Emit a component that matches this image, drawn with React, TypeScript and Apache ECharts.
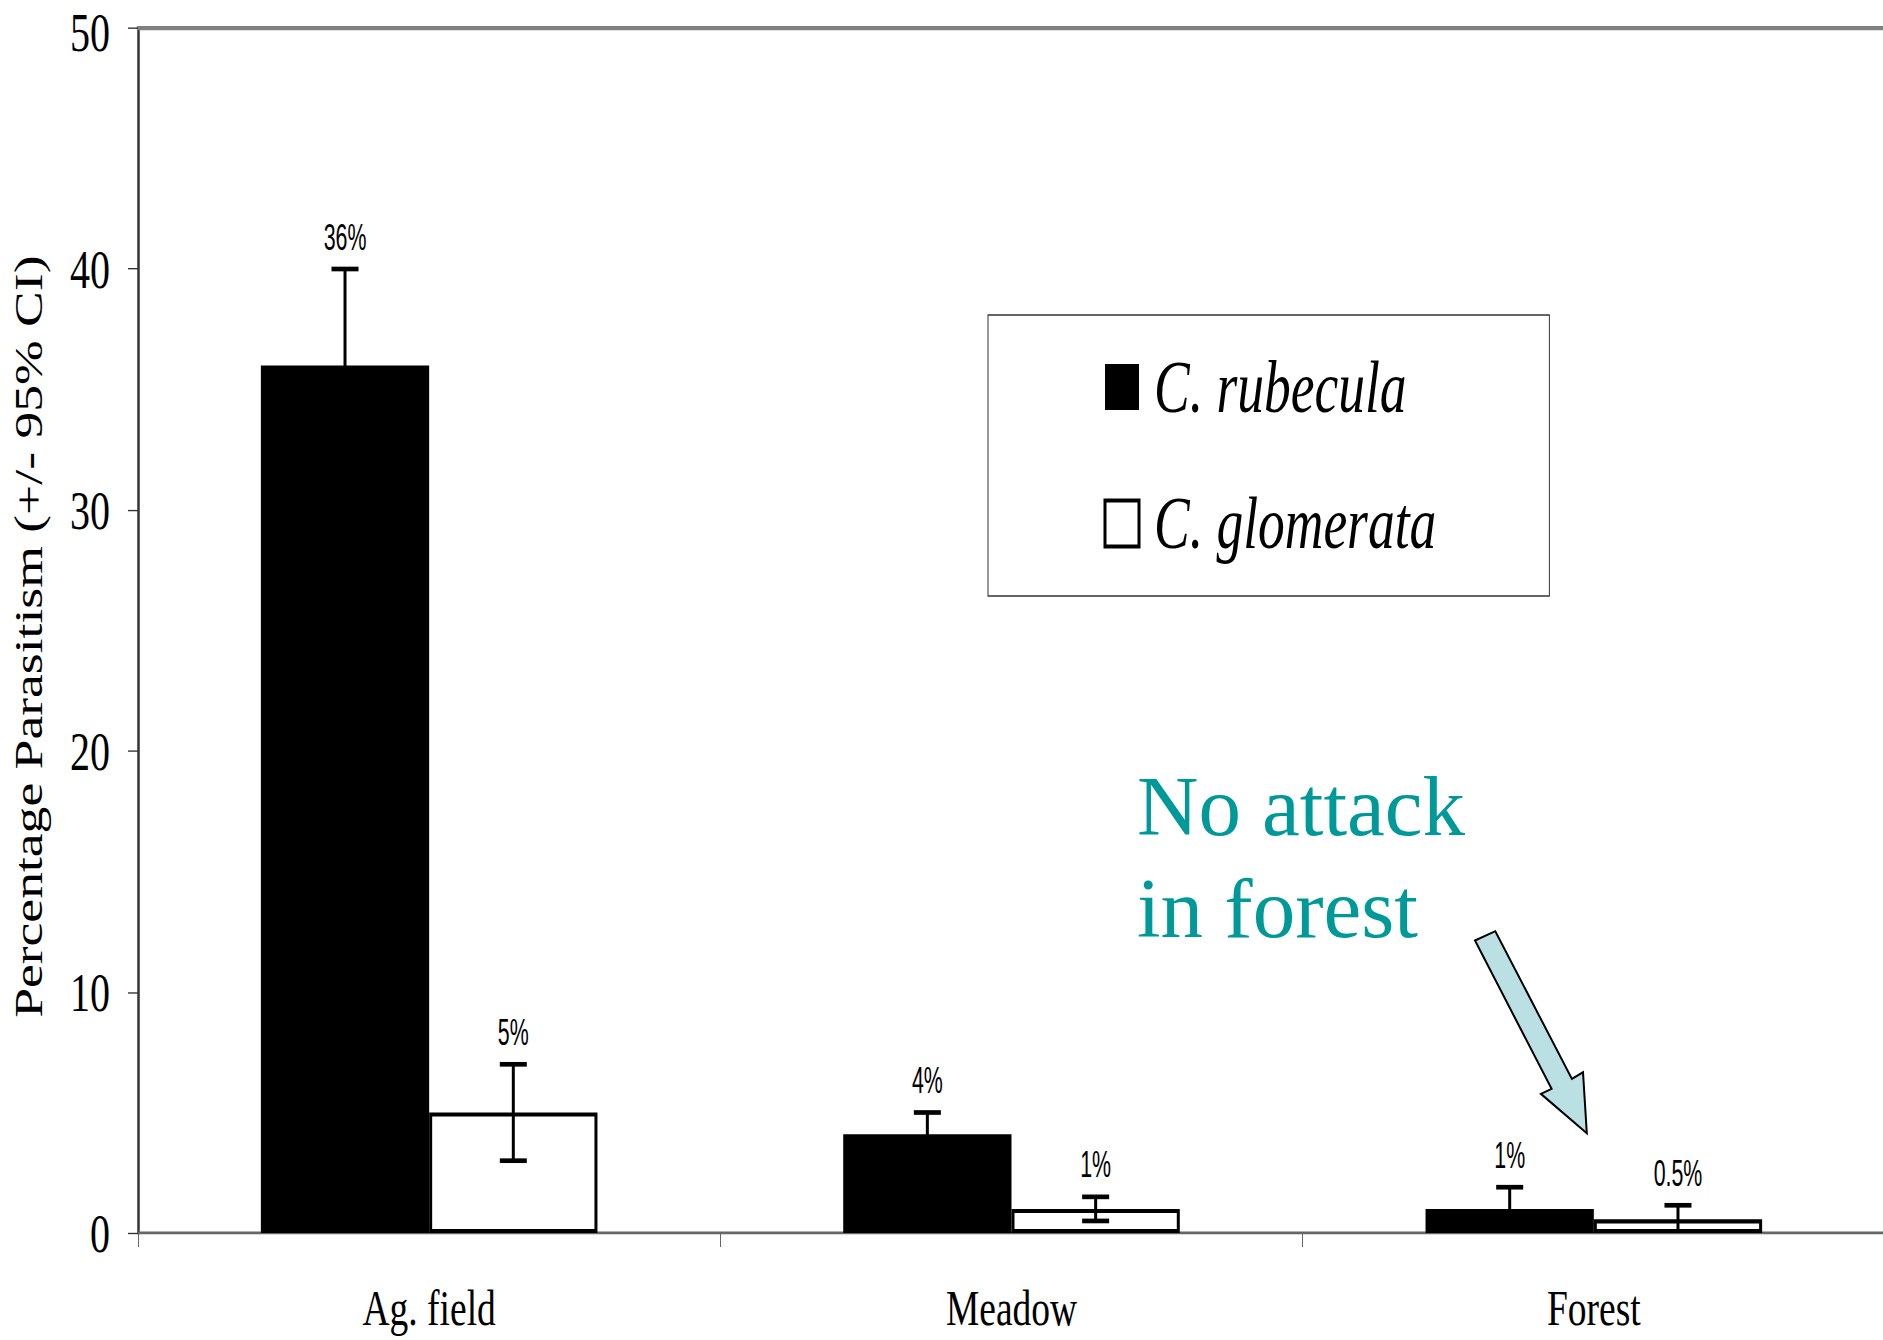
import React, { useEffect, useRef } from 'react';
import * as echarts from 'echarts';

// ---- data ----
const categories = ['Ag. field', 'Meadow', 'Forest'];
const seriesNames = ['C. rubecula', 'C. glomerata'];
const rubecula = [36, 4.1, 1.0];
const rubeculaCI = [4, 0.9, 0.9];
const glomerata = [5.0, 1.0, 0.57];
const glomerataCI = [2.0, 0.5, 0.58];
const rubeculaLabels = ['36%', '4%', '1%'];
const glomerataLabels = ['5%', '1%', '0.5%'];
const yMin = 0;
const yMax = 50;
const yStep = 10;
const yTitle = 'Percentage Parasitism (+/- 95% CI)';
const noteLines = ['No attack', 'in forest'];

// ---- layout ----
const W = 1883;
const H = 1340;
const CH = 975; // chart drawn at this height, then stretched vertically (original figure is stretched)
const S = H / CH;
const BAR_FRAC = 0.289;

const errData: number[][] = [];
const errLabels: string[] = [];
categories.forEach((_, i) => {
  errData.push([i, rubecula[i], rubeculaCI[i], 0]);
  errLabels.push(rubeculaLabels[i]);
  errData.push([i, glomerata[i], glomerataCI[i], 1]);
  errLabels.push(glomerataLabels[i]);
});

const renderItem = (params: any, api: any) => {
  const idx = params.dataIndex;
  const cat = api.value(0);
  const v = api.value(1);
  const e = api.value(2);
  const s = api.value(3);
  const band = api.size([1, 0])[0];
  const off = (s === 0 ? -1 : 1) * band * BAR_FRAC / 2;
  const x = api.coord([cat, v])[0] + off;
  const yHi = api.coord([cat, v + e])[1];
  const lowVal = v - e;
  const yLo = api.coord([cat, Math.max(0, lowVal)])[1];
  const half = 13.5;
  const children: any[] = [
    { type: 'line', shape: { x1: x, y1: yLo, x2: x, y2: yHi }, style: { stroke: '#000', lineWidth: 3 } },
    { type: 'line', shape: { x1: x - half, y1: yHi, x2: x + half, y2: yHi }, style: { stroke: '#000', lineWidth: 3.4 } },
  ];
  if (lowVal > 0.05) {
    children.push({ type: 'line', shape: { x1: x - half, y1: yLo, x2: x + half, y2: yLo }, style: { stroke: '#000', lineWidth: 3.4 } });
  }
  children.push({
    type: 'text',
    x: x,
    y: yHi - 10.5,
    scaleX: 0.78,
    style: {
      text: errLabels[idx],
      textAlign: 'center',
      textVerticalAlign: 'bottom',
      font: '27.4px "Liberation Sans", Arial, sans-serif',
      fill: '#000',
    },
  });
  return { type: 'group', children };
};

export default function App() {
  const ref = useRef<HTMLDivElement>(null);
  useEffect(() => {
    if (!ref.current) return;
    const chart = echarts.init(ref.current, null, { renderer: 'svg' });
    const serif = '"Liberation Serif", "Times New Roman", serif';
    const option: any = {
      animation: false,
      backgroundColor: '#fff',
      grid: {
        left: 138,
        right: -2,
        top: 28 / S,
        bottom: 107 / S,
        containLabel: false,
        outerBoundsMode: 'none',
      },
      legend: {
        show: true,
        orient: 'vertical',
        left: 988,
        top: 315 / S,
        align: 'left',
        icon: 'rect',
        itemWidth: 34,
        itemHeight: 46 / S,
        itemGap: 45.3,
        padding: [25.4, 113, 25.75, 115.5],
        borderColor: '#333',
        borderWidth: 1,
        backgroundColor: '#fff',
        selectedMode: false,
        textStyle: {
          fontFamily: serif,
          fontStyle: 'italic',
          fontSize: 53.5,
          lineHeight: 54,
          color: '#000',
          padding: [0, 0, 0, 10],
        },
        data: [
          { name: seriesNames[0], itemStyle: { color: '#000', borderWidth: 0 } },
          { name: seriesNames[1], itemStyle: { color: '#fff', borderColor: '#000', borderWidth: 3 } },
        ],
      },
      xAxis: [
        {
          type: 'category',
          data: categories,
          position: 'bottom',
          boundaryGap: true,
          axisLine: { show: true, lineStyle: { color: '#666', width: 2 } },
          axisTick: { show: true, length: 10.2, lineStyle: { color: '#666', width: 1 } },
          axisLabel: { margin: 35.5, fontFamily: serif, fontSize: 37.5, color: '#000' },
          splitLine: { show: false },
        },
        {
          type: 'category',
          data: categories,
          position: 'top',
          axisLine: { show: true, lineStyle: { color: '#808080', width: 3 } },
          axisTick: { show: false },
          axisLabel: { show: false },
          splitLine: { show: false },
        },
      ],
      yAxis: {
        type: 'value',
        min: yMin,
        max: yMax,
        interval: yStep,
        name: yTitle,
        nameLocation: 'middle',
        nameGap: 90,
        nameTextStyle: { fontFamily: serif, fontSize: 39, color: '#000', padding: [0, 9, 0, 0] },
        axisLine: { show: true, lineStyle: { color: '#333', width: 2.5 } },
        axisTick: { show: true, length: 10, lineStyle: { color: '#333', width: 1 } },
        axisLabel: {
          margin: 28,
          fontFamily: serif,
          fontSize: 40,
          lineHeight: 30,
          color: '#000',
          formatter: (v: number) => (v === yMax ? `{mx|${v}}` : `${v}`),
          rich: {
            mx: { fontFamily: serif, fontSize: 40, lineHeight: 30, color: '#000', padding: [6, 0, 0, 0] },
          },
        },
        splitLine: { show: false },
      },
      series: [
        {
          name: seriesNames[0],
          type: 'bar',
          data: rubecula,
          barWidth: (BAR_FRAC * 100).toFixed(1) + '%',
          barGap: '0%',
          itemStyle: { color: '#000' },
          z: 2,
        },
        {
          name: seriesNames[1],
          type: 'bar',
          data: glomerata,
          barWidth: (BAR_FRAC * 100).toFixed(1) + '%',
          barGap: '0%',
          itemStyle: { color: '#fff', borderColor: '#000', borderWidth: 3 },
          z: 2,
        },
        {
          name: 'ci',
          type: 'custom',
          renderItem,
          data: errData,
          encode: { x: 0, y: 1 },
          z: 10,
          silent: true,
        },
      ],
      graphic: [
        {
          type: 'group',
          x: 0,
          y: 0,
          scaleY: 1 / S,
          silent: true,
          children: [
            {
              type: 'text',
              x: 1137,
              y: 835 - 28.7,
              style: {
                text: noteLines[0],
                font: '85px "Liberation Serif", "Times New Roman", serif',
                fill: '#009999',
                textVerticalAlign: 'middle',
              },
            },
            {
              type: 'text',
              x: 1137,
              y: 937 - 28.7,
              style: {
                text: noteLines[1],
                font: '85px "Liberation Serif", "Times New Roman", serif',
                fill: '#009999',
                textVerticalAlign: 'middle',
              },
            },
            {
              type: 'polygon',
              shape: {
                points: [
                  [1475, 940],
                  [1495.3, 930.7],
                  [1571.9, 1078.3],
                  [1583, 1071.7],
                  [1586.8, 1132.7],
                  [1540.9, 1093.3],
                  [1551.6, 1088.3],
                ],
              },
              style: { fill: '#BBE0E3', stroke: '#000', lineWidth: 2 },
            },
          ],
        },
      ],
    };
    chart.setOption(option);
    return () => chart.dispose();
  }, []);

  return (
    <div
      style={{
        position: 'absolute',
        left: 0,
        top: 0,
        width: W,
        height: H,
        overflow: 'hidden',
        background: '#fff',
      }}
    >
      <div
        ref={ref}
        style={{
          width: W,
          height: CH,
          transform: `scaleY(${S})`,
          transformOrigin: '0 0',
        }}
      />
    </div>
  );
}
